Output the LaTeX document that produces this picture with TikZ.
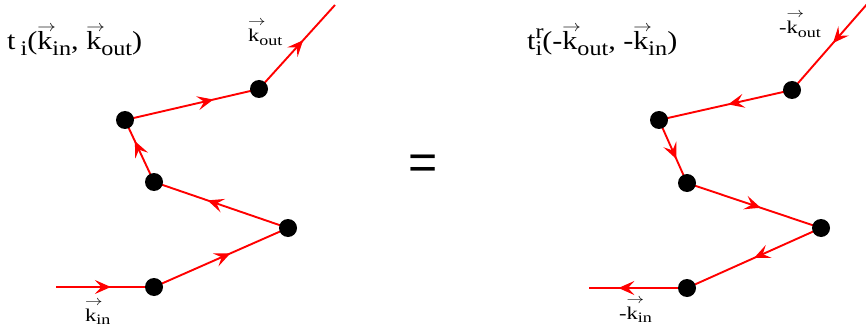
\documentclass[tikz,border=0pt]{standalone}
\usepackage{graphicx}
\usepackage{fontspec}
\setmainfont{Liberation Serif}
\newfontfamily\eqfont{Liberation Sans}
\usetikzlibrary{arrows.meta,decorations.markings,backgrounds}
% vector k: #1 = raise of arrow, #2 = arrow width
\newcommand{\kv}[2]{\rlap{\raisebox{#1}{\resizebox{#2}{!}{$\rightarrow$}}}k}
\newcommand{\sbs}[1]{\raisebox{-0.2em}{\fontsize{0.8\dimexpr\fontdimen6\font\relax}{1em}\selectfont #1}}
\newcommand{\sps}[1]{\raisebox{0.45em}{\fontsize{0.8\dimexpr\fontdimen6\font\relax}{1em}\selectfont #1}}
\newcommand{\kT}{\kv{18pt}{16pt}}
\newcommand{\kL}{\kv{16pt}{14pt}}
\begin{document}
\begin{tikzpicture}[x=1pt,y=-1pt,
  dot/.style={circle,fill=black,inner sep=0pt,minimum size=18pt},
  wire/.style={red,line width=1.9pt},
  midarrow/.style={postaction=decorate,decoration={markings,
     mark=at position #1 with {\arrow{Stealth[length=16pt,width=14pt,inset=6.5pt]}}}},
  lbl/.style={inner sep=0pt,anchor=base west,font=\fontsize{18}{20}\selectfont},
  ttl/.style={inner sep=0pt,anchor=base west,font=\fontsize{26}{30}\selectfont},
]
\useasboundingbox (0,0) rectangle (866,331);
% left diagram
\coordinate (Lin) at (56,287);
\node[dot] (LA) at (154,287) {};
\node[dot] (LB) at (288,228) {};
\node[dot] (LC) at (154,182) {};
\node[dot] (LD) at (125,120) {};
\node[dot] (LE) at (259,89) {};
\coordinate (Lout) at (335,5);
\begin{scope}[on background layer]
\draw[wire,midarrow=0.56] (Lin) -- (LA.center);
\draw[wire,midarrow=0.57] (LA.center) -- (LB.center);
\draw[wire,midarrow=0.6] (LB.center) -- (LC.center);
\draw[wire,midarrow=0.66] (LC.center) -- (LD.center);
\draw[wire,midarrow=0.66] (LD.center) -- (LE.center);
\draw[wire,midarrow=0.58] (LE.center) -- (Lout);
\end{scope}
\node[ttl] (Lttl) at (7,50) {\scalebox{1.16}[1]{t\,\sbs{i}(\kT\sbs{in}, \kT\sbs{out})}};
\node[lbl] (Lkout) at (248,42) {\scalebox{1.25}[1]{\kL\sbs{out}}};
\node[lbl] (Lkin) at (85,321) {\scalebox{1.25}[1]{\kL\sbs{in}}};
% equals
\node[inner sep=0pt,font=\eqfont\fontsize{50}{60}\selectfont] (eq) at (423,167) {=};
% right diagram
\coordinate (Rin) at (589,288);
\node[dot] (RA) at (687,288) {};
\node[dot] (RB) at (821,228) {};
\node[dot] (RC) at (687,183) {};
\node[dot] (RD) at (659,120) {};
\node[dot] (RE) at (792,90) {};
\coordinate (Rout) at (868,3);
\begin{scope}[on background layer]
\draw[wire,midarrow=0.46] (Rout) -- (RE.center);
\draw[wire,midarrow=0.48] (RE.center) -- (RD.center);
\draw[wire,midarrow=0.62] (RD.center) -- (RC.center);
\draw[wire,midarrow=0.55] (RC.center) -- (RB.center);
\draw[wire,midarrow=0.5] (RB.center) -- (RA.center);
\draw[wire,midarrow=0.7] (RA.center) -- (Rin);
\end{scope}
\node[ttl] (Rttl) at (527,50) {\scalebox{1.16}[1]{t\rlap{\sps{r}}\sbs{i}(-\kT\sbs{out}, -\kT\sbs{in})}};
\node[lbl] (Rkout) at (779,34) {\scalebox{1.25}[1]{-\kL\sbs{out}}};
\node[lbl] (Rkin) at (619,319) {\scalebox{1.25}[1]{-\kL\sbs{in}}};
\end{tikzpicture}
\end{document}
